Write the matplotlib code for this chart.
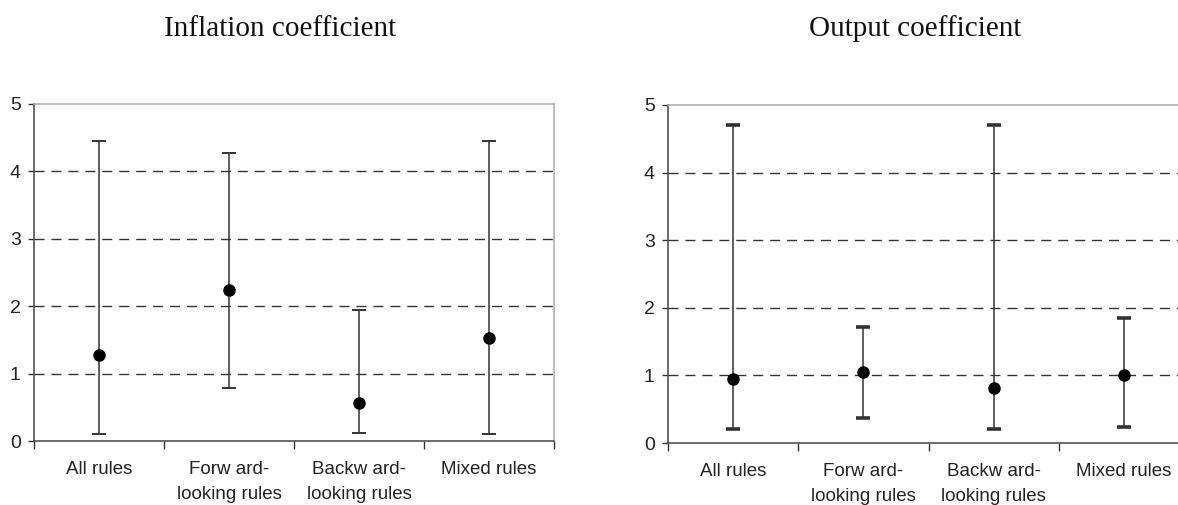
import matplotlib
matplotlib.use("Agg")
import matplotlib.pyplot as plt
import numpy as np

categories = ["All rules", "Forw ard-\nlooking rules", "Backw ard-\nlooking rules", "Mixed rules"]

infl_point = [1.27, 2.24, 0.57, 1.53]
infl_low = [0.10, 0.78, 0.12, 0.10]
infl_high = [4.45, 4.28, 1.95, 4.45]

out_point = [0.95, 1.05, 0.81, 1.00]
out_low = [0.21, 0.37, 0.21, 0.24]
out_high = [4.70, 1.71, 4.70, 1.85]

titles = ["Inflation coefficient", "Output coefficient"]
yticks = [0, 1, 2, 3, 4, 5]

W, H = 1178, 505
fig = plt.figure(figsize=(W / 100, H / 100), dpi=100)

axes_rects = [
    [34 / W, 1 - 441 / H, 520 / W, 337 / H],
    [668 / W, 1 - 443 / H, 521 / W, 338 / H],
]
title_x = [280 / W, 915 / W]
capthick = [1.4, 2.6]

panels = [(infl_point, infl_low, infl_high), (out_point, out_low, out_high)]

for i, (pts, lo, hi) in enumerate(panels):
    ax = fig.add_axes(axes_rects[i])
    x = np.arange(len(categories))
    pts = np.array(pts)
    lo = np.array(lo)
    hi = np.array(hi)
    # dashed grid lines
    for yv in [1, 2, 3, 4]:
        ax.axhline(yv, color="#333333", lw=1.0, dashes=(7.2, 5), zorder=1)
    ax.errorbar(x, pts, yerr=[pts - lo, hi - pts], fmt="o", color="black",
                ecolor="#333333", elinewidth=1.1, capsize=5, capthick=capthick[i],
                markersize=8, zorder=3)
    ax.set_xlim(-0.5, len(categories) - 0.5)
    ax.set_ylim(0, 5)
    ax.set_yticks(yticks)
    ax.set_yticklabels([str(v) for v in yticks])
    ax.set_xticks(np.arange(len(categories) + 1) - 0.5)
    ax.set_xticklabels([])
    ax.set_xticks(x, minor=True)
    ax.set_xticklabels(categories, minor=True, fontsize=13.5, color="#222222",
                       family="Liberation Sans", linespacing=1.62)
    ax.tick_params(axis="x", which="minor", length=0, pad=14.5)
    ax.tick_params(axis="x", which="major", length=5.5, width=1.0, color="#333333",
                   direction="out")
    ax.tick_params(axis="y", which="major", length=4.5, width=1.0, color="#333333",
                   direction="out", pad=5, labelsize=14, labelcolor="#222222")
    for lab in ax.get_yticklabels():
        lab.set_family("Liberation Sans")
    for s in ["left", "bottom"]:
        ax.spines[s].set_color("#444444")
        ax.spines[s].set_linewidth(1.1)
    for s in ["top", "right"]:
        ax.spines[s].set_color("#aaaaaa")
        ax.spines[s].set_linewidth(1.1)
    fig.text(title_x[i], 1 - 29 / H, titles[i], ha="center", va="center",
             family="Liberation Serif", fontsize=21, color="#111111")

fig.savefig("out.png", dpi=100)
